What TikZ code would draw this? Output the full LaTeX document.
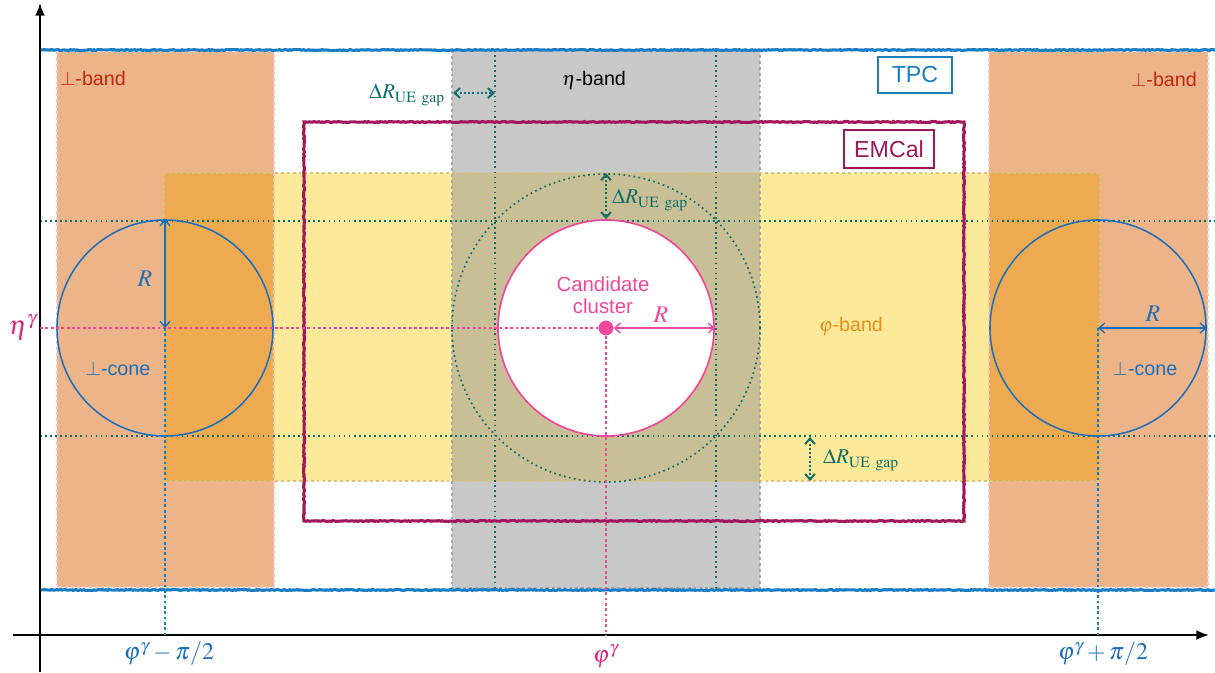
\documentclass[tikz,border=0pt]{standalone}
\usepackage{mathptmx}
\usepackage{fontspec}
\setmainfont{Liberation Sans}
\usetikzlibrary{arrows.meta,decorations.pathmorphing}
\definecolor{tpcblue}{HTML}{1A7DC2}
\definecolor{conebl}{HTML}{1B6FBF}
\definecolor{emcalc}{HTML}{A0175A}
\definecolor{perpor}{HTML}{EDB489}
\definecolor{perpdk}{HTML}{EDAA50}
\definecolor{phiyel}{HTML}{FDE99A}
\definecolor{etagray}{HTML}{C8C8C8}
\definecolor{colive}{HTML}{C9BF97}
\definecolor{cteal}{HTML}{0F6E68}
\definecolor{pinkc}{HTML}{F0489B}
\definecolor{axpink}{HTML}{D9287C}
\definecolor{perpred}{HTML}{C4260C}
\definecolor{phiorange}{HTML}{EE8C1C}
\definecolor{bandpink}{HTML}{F4C6BE}
\definecolor{graydot}{HTML}{A8A8A8}
\definecolor{yeldot}{HTML}{D6C37C}
\begin{document}
\begin{tikzpicture}[x=0.025cm,y=-0.025cm,
  sketch/.style={line width=2.2pt, decorate, decoration={random steps,segment length=1.2pt,amplitude=0.35pt}},
  bandborder/.style={line width=2pt, dash pattern=on 2pt off 2.2pt},
  tealdot/.style={draw=cteal, line width=1.2pt, dash pattern=on 1.2pt off 2.4pt},
  pinkdot/.style={draw=pinkc, line width=2pt, dash pattern=on 2pt off 1.8pt},
  bluedot/.style={draw=tpcblue, line width=2pt, dash pattern=on 2pt off 1.8pt},
  lbl/.style={font=\fontsize{14}{16}\selectfont, inner sep=0pt},
  boxlbl/.style={font=\fontsize{16.5}{18}\selectfont, inner sep=0pt, line width=1.3pt, draw},
  rlbl/.style={font=\fontsize{17}{19}\selectfont, inner sep=0pt},
  dlbl/.style={font=\fontsize{15}{17}\selectfont, inner sep=0pt, text=cteal},
  axlbl/.style={font=\fontsize{17}{19}\selectfont, inner sep=0pt},
  both/.style={{Straight Barb[length=4pt,width=7pt]}-{Straight Barb[length=4pt,width=7pt]}},
  ring/.style={circle, inner sep=0pt, minimum size=5.4cm}
]
\useasboundingbox (0,0) rectangle (1215,672);
% band fills
\fill[phiyel] (164,173) rectangle (1100,481);
\fill[etagray] (452,50) rectangle (760,588);
\fill[colive] (452,173) rectangle (760,481);
\fill[perpor] (57,52) rectangle (274,587);
\fill[perpor] (989,52) rectangle (1208,587);
\fill[perpdk] (164,173) rectangle (274,481);
\fill[perpdk] (989,173) rectangle (1100,481);
% band borders
\draw[bandborder, draw=bandpink] (57,52) rectangle (274,587);
\draw[bandborder, draw=bandpink] (989,52) rectangle (1208,587);
\draw[bandborder, draw=graydot] (452,50) rectangle (760,588);
\draw[bandborder, draw=yeldot] (164,173) rectangle (1100,481);
% teal guide lines
\draw[tealdot] (40,221) -- (1215,221);
\draw[tealdot] (40,436) -- (1215,436);
\draw[tealdot] (495,50) -- (495,590);
\draw[tealdot] (716,50) -- (716,590);
% outer gap circle and candidate cone
\node[circle, tealdot, inner sep=0pt, minimum size=7.7cm] (outer) at (606,328) {};
\node[ring, draw=pinkc, fill=white, line width=1.2pt] (cand) at (606,328) {};
% detectors
\draw[sketch, draw=tpcblue] (40,50) -- (1215,50);
\draw[sketch, draw=tpcblue] (40,590) -- (1215,590);
\draw[sketch, draw=emcalc] (304,122) rectangle (964,521);
\node[boxlbl, draw=tpcblue, text=tpcblue, minimum width=1.85cm, minimum height=0.92cm] (tpc) at (915,75) {TPC};
\node[boxlbl, draw=emcalc, text=emcalc, minimum width=2.25cm, minimum height=0.95cm] (emc) at (889,149) {EMCal};
% axes
\coordinate (ybot) at (40,672);
\coordinate (ytop) at (40,3);
\coordinate (xl) at (13,635);
\coordinate (xr) at (1209,635);
\draw[line width=1.3pt, -{Latex[length=9pt,width=7pt]}] (ybot) -- (ytop);
\draw[line width=1.3pt, -{Latex[length=9pt,width=7pt]}] (xl) -- (xr);
% perpendicular cones
\node[ring, draw=conebl, line width=1.1pt] (lc) at (165,328) {};
\node[ring, draw=conebl, line width=1.1pt] (rc) at (1098,328) {};
% candidate dot and guide lines
\node[circle, fill=pinkc, inner sep=0pt, minimum size=0.37cm] (dot) at (606,328) {};
\coordinate (etaL) at (40,328);
\coordinate (phiB) at (606,635);
\coordinate (lB) at (165,635);
\coordinate (rB) at (1098,635);
\draw[pinkdot] (etaL) -- (dot.west);
\draw[pinkdot] (dot.south) -- (phiB);
\draw[bluedot] (lc.center) -- (lB);
\draw[bluedot] (rc.center) -- (rB);
% R arrows
\draw[both, draw=conebl, line width=1pt] (lc.center) -- (lc.north);
\draw[both, draw=conebl, line width=1pt] (rc.center) -- (rc.east);
\draw[both, draw=pinkc, line width=1pt] (dot.east) -- (cand.east);
% Delta R gap arrows
\coordinate (ga) at (453,93);
\coordinate (gb) at (495,93);
\coordinate (gc) at (810,437);
\coordinate (gd) at (810,481);
\draw[both, tealdot, line width=1.4pt, dash pattern=on 1.4pt off 1.6pt] (ga) -- (gb);
\draw[both, tealdot, line width=1.4pt, dash pattern=on 1.4pt off 1.6pt] (outer.north) -- (cand.north);
\draw[both, tealdot, line width=1.4pt, dash pattern=on 1.4pt off 1.6pt] (gc) -- (gd);
% labels
\node[lbl, text=perpred] (pbl) at (93,78) {$\perp$-band};
\node[lbl, text=perpred] (pbr) at (1164,79) {$\perp$-band};
\node[lbl, text=black] (etab) at (594,80) {$\eta$-band};
\node[lbl, text=phiorange] (phib) at (851,327) {$\varphi$-band};
\node[lbl, text=pinkc, align=center, font=\fontsize{14.5}{15.8}\selectfont] (cl) at (603,295) {Candidate\\cluster};
\node[lbl, text=conebl] (lcone) at (118,369) {$\perp$-cone};
\node[lbl, text=conebl] (rcone) at (1145,369) {$\perp$-cone};
\node[rlbl, text=conebl] (rl) at (145,279) {$R$};
\node[rlbl, text=conebl] (rr) at (1153,314) {$R$};
\node[rlbl, text=pinkc] (rc2) at (661,315) {$R$};
\node[dlbl] (d1) at (407,95) {$\Delta R_{\mathrm{UE\ gap}}$};
\node[dlbl] (d2) at (650,200) {$\Delta R_{\mathrm{UE\ gap}}$};
\node[dlbl] (d3) at (861,460) {$\Delta R_{\mathrm{UE\ gap}}$};
\node[axlbl, text=axpink, font=\fontsize{19}{21}\selectfont] (eta) at (23,327) {$\eta^{\gamma}$};
\node[axlbl, text=conebl] (pm) at (169,654) {$\varphi^{\gamma}-\pi/2$};
\node[axlbl, text=axpink] (p0) at (606,656) {$\varphi^{\gamma}$};
\node[axlbl, text=conebl] (pp) at (1103,654) {$\varphi^{\gamma}+\pi/2$};
\end{tikzpicture}
\end{document}
